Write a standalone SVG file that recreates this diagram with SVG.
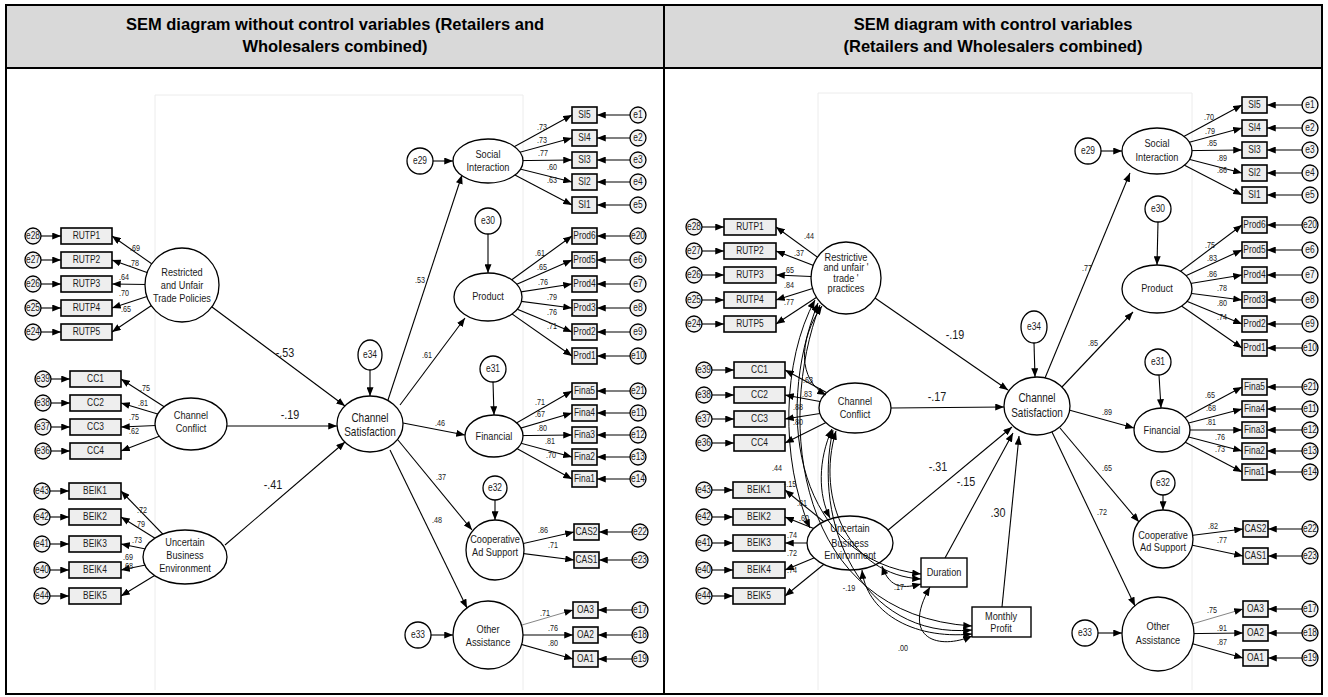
<svg xmlns="http://www.w3.org/2000/svg" width="1328" height="697" viewBox="0 0 1328 697">
<style>
.tx{font-family:"Liberation Sans",Arial,sans-serif;text-anchor:middle;fill:#1a1a1a}
text.tx,g.tx text{transform-box:fill-box;transform-origin:center;transform:scaleX(0.8)}
.hd{font-family:"Liberation Sans",Arial,sans-serif;font-weight:bold;font-size:16.5px;text-anchor:middle;fill:#000}
.nm{font-size:11.5px}.cs{font-size:12.5px}.ix{font-size:10.5px}.ex{font-size:10.5px}.ld{font-size:9px}.cf{font-size:13.5px}
.cn path{stroke:#000;stroke-width:1.1;fill:none;marker-end:url(#ah)}
.cv path{stroke:#000;stroke-width:1;fill:none;marker-end:url(#ah);marker-start:url(#ah)}
.lat{fill:#fff;stroke:#000;stroke-width:1.3}
.err{fill:#f3f3f3;stroke:#000;stroke-width:1.3}
.ind{fill:#eeeeee;stroke:#000;stroke-width:1.6}
.cvs{stroke:#ececec;stroke-width:1;fill:none}
</style>
<defs>
<marker id="ah" viewBox="0 0 10 8" refX="10" refY="4" markerWidth="9" markerHeight="7" markerUnits="userSpaceOnUse" orient="auto-start-reverse"><path d="M0,0L10,4L0,8z" fill="#000"/></marker>
</defs>
<rect x="0" y="0" width="1328" height="697" fill="#fff"/>
<g id="table">
<rect x="6" y="5" width="1316" height="63" fill="#d9d9d9"/>
<rect x="6" y="5" width="1316" height="689" fill="none" stroke="#000" stroke-width="2"/>
<line x1="6" y1="68" x2="1322" y2="68" stroke="#000" stroke-width="2"/>
<line x1="664" y1="5" x2="664" y2="694" stroke="#000" stroke-width="2"/>
<text class="hd" x="335" y="30">SEM diagram without control variables (Retailers and</text>
<text class="hd" x="335" y="52">Wholesalers combined)</text>
<text class="hd" x="993" y="30">SEM diagram with control variables</text>
<text class="hd" x="993" y="52">(Retailers and Wholesalers combined)</text>
</g>
<g id="canvas">
<path class="cvs" d="M155 690V95H523V690"/>
<path class="cvs" d="M818 690V93H1192V690"/>
</g>
<g id="connectors" class="cn">
<path d="M41 236H61"/><path d="M41 260H61"/><path d="M41 284H61"/><path d="M41 308H61"/><path d="M41 332H61"/>
<path d="M182 285L112 236"/><path d="M182 285L112 260"/><path d="M182 285L112 284"/><path d="M182 285L112 308"/><path d="M182 285L112 332"/>
<path d="M51 379H70"/><path d="M51 403H70"/><path d="M51 427H70"/><path d="M51 451H70"/>
<path d="M191 424L121 379"/><path d="M191 424L121 403"/><path d="M191 424L121 427"/><path d="M191 424L121 451"/>
<path d="M50 491H69"/><path d="M50 517H69"/><path d="M50 544H69"/><path d="M50 570H69"/><path d="M50 596H69"/>
<path d="M185 557L121 491"/><path d="M185 557L121 517"/><path d="M185 557L121 544"/><path d="M185 557L121 570"/><path d="M185 557L121 596"/>
<path d="M488 161L572 115"/><path d="M488 161L572 138"/><path d="M488 161L572 160"/><path d="M488 161L572 182"/><path d="M488 161L572 205"/>
<path d="M630 115H597"/><path d="M630 138H597"/><path d="M630 160H597"/><path d="M630 182H597"/><path d="M630 205H597"/>
<path d="M488 297L572 236"/><path d="M488 297L572 260"/><path d="M488 297L572 284"/><path d="M488 297L572 308"/><path d="M488 297L572 332"/><path d="M488 297L572 356"/>
<path d="M630 236H597"/><path d="M630 260H597"/><path d="M630 284H597"/><path d="M630 308H597"/><path d="M630 332H597"/><path d="M630 356H597"/>
<path d="M494 436L572 391"/><path d="M494 436L572 413"/><path d="M494 436L572 435"/><path d="M494 436L572 457"/><path d="M494 436L572 479"/>
<path d="M630 391H597"/><path d="M630 413H597"/><path d="M630 435H597"/><path d="M630 457H597"/><path d="M630 479H597"/>
<path d="M495 550L574 532"/><path d="M495 550L574 560"/><path d="M632 532H599"/><path d="M632 560H599"/>
<path d="M488 635L573 610" style="stroke:#666;stroke-width:0.8"/><path d="M488 635L573 635"/><path d="M488 635L573 659"/>
<path d="M632 610H598"/><path d="M632 635H598"/><path d="M632 659H598"/>
<path d="M370 370V396"/>
<path d="M212 307L345 406"/><path d="M227 426H337"/><path d="M225 545L345 442"/>
<path d="M388 400L462 175"/><path d="M400 405L465 318"/><path d="M403 423L465 435"/><path d="M398 440L472 530"/><path d="M390 450L467 608"/>
<path d="M433 161H453"/><path d="M488 234V273"/><path d="M493 382L494 415"/><path d="M495 500V520"/><path d="M431 635H453"/>
<path d="M702 227H724"/><path d="M702 251H724"/><path d="M702 275H724"/><path d="M702 300H724"/><path d="M702 324H724"/>
<path d="M846 278L776 227"/><path d="M846 278L776 251"/><path d="M846 278L776 275"/><path d="M846 278L776 300"/><path d="M846 278L776 324"/>
<path d="M712 370H734"/><path d="M712 395H734"/><path d="M712 419H734"/><path d="M712 443H734"/>
<path d="M855 408L785 370"/><path d="M855 408L785 395"/><path d="M855 408L785 419"/><path d="M855 408L785 443"/>
<path d="M712 490H733"/><path d="M712 517H733"/><path d="M712 543H733"/><path d="M712 570H733"/><path d="M712 596H733"/>
<path d="M850 543L785 490"/><path d="M850 543L785 517"/><path d="M850 543L785 543"/><path d="M850 543L785 570"/><path d="M850 543L785 596"/>
<path d="M1157 151L1242 105"/><path d="M1157 151L1242 128"/><path d="M1157 151L1242 150"/><path d="M1157 151L1242 173"/><path d="M1157 151L1242 195"/>
<path d="M1302 105H1267"/><path d="M1302 128H1267"/><path d="M1302 150H1267"/><path d="M1302 173H1267"/><path d="M1302 195H1267"/>
<path d="M1157 289L1242 225"/><path d="M1157 289L1242 250"/><path d="M1157 289L1242 275"/><path d="M1157 289L1242 300"/><path d="M1157 289L1242 324"/><path d="M1157 289L1242 348"/>
<path d="M1302 225H1267"/><path d="M1302 250H1267"/><path d="M1302 275H1267"/><path d="M1302 300H1267"/><path d="M1302 324H1267"/><path d="M1302 348H1267"/>
<path d="M1162 430L1242 387"/><path d="M1162 430L1242 409"/><path d="M1162 430L1242 430"/><path d="M1162 430L1242 451"/><path d="M1162 430L1242 472"/>
<path d="M1302 387H1267"/><path d="M1302 409H1267"/><path d="M1302 430H1267"/><path d="M1302 451H1267"/><path d="M1302 472H1267"/>
<path d="M1163 539L1243 529"/><path d="M1163 539L1243 556"/><path d="M1302 529H1268"/><path d="M1302 556H1268"/>
<path d="M1158 634L1243 609" style="stroke:#666;stroke-width:0.8"/><path d="M1158 634L1243 633"/><path d="M1158 634L1243 658"/>
<path d="M1302 609H1268"/><path d="M1302 633H1268"/><path d="M1302 658H1268"/>
<path d="M1034 343L1035 377"/>
<path d="M875 298L1008 390"/><path d="M891 408L1004 407"/><path d="M887 531L1012 427"/><path d="M945 558L1013 433"/><path d="M1002 607L1019 436"/>
<path d="M1045 378L1130 173"/><path d="M1061 388L1133 312"/><path d="M1069 410L1134 428"/><path d="M1060 428L1139 522"/><path d="M1052 432L1135 606"/>
<path d="M1101 151H1122"/><path d="M1158 222L1157 265"/><path d="M1159 375L1161 408"/><path d="M1163 495V510"/><path d="M1098 633H1122"/>
</g>
<g id="L-RUTP">
<rect class="ind" x="61" y="228" width="51" height="16"/><rect class="ind" x="61" y="252" width="51" height="16"/><rect class="ind" x="61" y="276" width="51" height="16"/><rect class="ind" x="61" y="300" width="51" height="16"/><rect class="ind" x="61" y="324" width="51" height="16"/>
<text class="tx ix" x="86.5" y="239.5">RUTP1</text><text class="tx ix" x="86.5" y="263.5">RUTP2</text><text class="tx ix" x="86.5" y="287.5">RUTP3</text><text class="tx ix" x="86.5" y="311.5">RUTP4</text><text class="tx ix" x="86.5" y="335.5">RUTP5</text>
<circle class="err" cx="33" cy="236" r="8"/><circle class="err" cx="33" cy="260" r="8"/><circle class="err" cx="33" cy="284" r="8"/><circle class="err" cx="33" cy="308" r="8"/><circle class="err" cx="33" cy="332" r="8"/>
<text class="tx ex" x="33" y="239.5">e28</text><text class="tx ex" x="33" y="263.5">e27</text><text class="tx ex" x="33" y="287.5">e26</text><text class="tx ex" x="33" y="311.5">e25</text><text class="tx ex" x="33" y="335.5">e24</text>
</g>
<g id="L-Restricted">
<circle class="lat" cx="182" cy="285" r="37"/>
<text class="tx nm" x="182" y="276">Restricted</text><text class="tx nm" x="182" y="289">and Unfair</text><text class="tx nm" x="182" y="302">Trade Policies</text>
</g>
<g id="L-CC">
<rect class="ind" x="70" y="371" width="51" height="16"/><rect class="ind" x="70" y="395" width="51" height="16"/><rect class="ind" x="70" y="419" width="51" height="16"/><rect class="ind" x="70" y="443" width="51" height="16"/>
<text class="tx ix" x="95.5" y="382.5">CC1</text><text class="tx ix" x="95.5" y="406.5">CC2</text><text class="tx ix" x="95.5" y="430.5">CC3</text><text class="tx ix" x="95.5" y="454.5">CC4</text>
<circle class="err" cx="43" cy="379" r="8"/><circle class="err" cx="43" cy="403" r="8"/><circle class="err" cx="43" cy="427" r="8"/><circle class="err" cx="43" cy="451" r="8"/>
<text class="tx ex" x="43" y="382.5">e39</text><text class="tx ex" x="43" y="406.5">e38</text><text class="tx ex" x="43" y="430.5">e37</text><text class="tx ex" x="43" y="454.5">e36</text>
</g>
<g id="L-ChannelConflict">
<ellipse class="lat" cx="191" cy="424" rx="36" ry="26"/>
<text class="tx nm" x="191" y="419">Channel</text><text class="tx nm" x="191" y="432">Conflict</text>
</g>
<g id="L-BEIK">
<rect class="ind" x="69" y="483" width="52" height="16"/><rect class="ind" x="69" y="509" width="52" height="16"/><rect class="ind" x="69" y="536" width="52" height="16"/><rect class="ind" x="69" y="562" width="52" height="16"/><rect class="ind" x="69" y="588" width="52" height="16"/>
<text class="tx ix" x="95" y="494.5">BEIK1</text><text class="tx ix" x="95" y="520.5">BEIK2</text><text class="tx ix" x="95" y="547.5">BEIK3</text><text class="tx ix" x="95" y="573.5">BEIK4</text><text class="tx ix" x="95" y="599.5">BEIK5</text>
<circle class="err" cx="42" cy="491" r="8"/><circle class="err" cx="42" cy="517" r="8"/><circle class="err" cx="42" cy="544" r="8"/><circle class="err" cx="42" cy="570" r="8"/><circle class="err" cx="42" cy="596" r="8"/>
<text class="tx ex" x="42" y="494.5">e43</text><text class="tx ex" x="42" y="520.5">e42</text><text class="tx ex" x="42" y="547.5">e41</text><text class="tx ex" x="42" y="573.5">e40</text><text class="tx ex" x="42" y="599.5">e44</text>
</g>
<g id="L-UBE">
<ellipse class="lat" cx="185" cy="557" rx="42" ry="27"/>
<text class="tx nm" x="185" y="546">Uncertain</text><text class="tx nm" x="185" y="559">Business</text><text class="tx nm" x="185" y="572">Environment</text>
</g>
<g id="L-ChannelSat">
<ellipse class="lat" cx="370" cy="424" rx="33" ry="28"/>
<text class="tx cs" x="370" y="422">Channel</text><text class="tx cs" x="370" y="436">Satisfaction</text>
<ellipse class="lat" cx="370" cy="355" rx="12" ry="15"/>
<text class="tx ex" x="370" y="358.5">e34</text>
</g>
<g id="L-Social">
<ellipse class="lat" cx="488" cy="161" rx="35" ry="22"/>
<text class="tx nm" x="488" y="158">Social</text><text class="tx nm" x="488" y="171">Interaction</text>
<circle class="lat" cx="420" cy="161" r="13"/><text class="tx ex" x="420" y="164.5">e29</text>
<rect class="ind" x="572" y="107" width="25" height="16"/><rect class="ind" x="572" y="130" width="25" height="16"/><rect class="ind" x="572" y="152" width="25" height="16"/><rect class="ind" x="572" y="174" width="25" height="16"/><rect class="ind" x="572" y="197" width="25" height="16"/>
<text class="tx ix" x="584.5" y="118.5">SI5</text><text class="tx ix" x="584.5" y="141.5">SI4</text><text class="tx ix" x="584.5" y="163.5">SI3</text><text class="tx ix" x="584.5" y="185.5">SI2</text><text class="tx ix" x="584.5" y="208.5">SI1</text>
<circle class="err" cx="638" cy="115" r="8"/><circle class="err" cx="638" cy="138" r="8"/><circle class="err" cx="638" cy="160" r="8"/><circle class="err" cx="638" cy="182" r="8"/><circle class="err" cx="638" cy="205" r="8"/>
<text class="tx ex" x="638" y="118.5">e1</text><text class="tx ex" x="638" y="141.5">e2</text><text class="tx ex" x="638" y="163.5">e3</text><text class="tx ex" x="638" y="185.5">e4</text><text class="tx ex" x="638" y="208.5">e5</text>
</g>
<g id="L-Product">
<ellipse class="lat" cx="488" cy="297" rx="34" ry="24"/>
<text class="tx nm" x="488" y="300">Product</text>
<circle class="lat" cx="488" cy="221" r="13"/><text class="tx ex" x="488" y="224.5">e30</text>
<rect class="ind" x="572" y="228" width="25" height="16"/><rect class="ind" x="572" y="252" width="25" height="16"/><rect class="ind" x="572" y="276" width="25" height="16"/><rect class="ind" x="572" y="300" width="25" height="16"/><rect class="ind" x="572" y="324" width="25" height="16"/><rect class="ind" x="572" y="348" width="25" height="16"/>
<text class="tx ix" x="584.5" y="239.5">Prod6</text><text class="tx ix" x="584.5" y="263.5">Prod5</text><text class="tx ix" x="584.5" y="287.5">Prod4</text><text class="tx ix" x="584.5" y="311.5">Prod3</text><text class="tx ix" x="584.5" y="335.5">Prod2</text><text class="tx ix" x="584.5" y="359.5">Prod1</text>
<circle class="err" cx="638" cy="236" r="8"/><circle class="err" cx="638" cy="260" r="8"/><circle class="err" cx="638" cy="284" r="8"/><circle class="err" cx="638" cy="308" r="8"/><circle class="err" cx="638" cy="332" r="8"/><circle class="err" cx="638" cy="356" r="8"/>
<text class="tx ex" x="638" y="239.5">e20</text><text class="tx ex" x="638" y="263.5">e6</text><text class="tx ex" x="638" y="287.5">e7</text><text class="tx ex" x="638" y="311.5">e8</text><text class="tx ex" x="638" y="335.5">e9</text><text class="tx ex" x="638" y="359.5">e10</text>
</g>
<g id="L-Financial">
<ellipse class="lat" cx="494" cy="436" rx="29" ry="21"/>
<text class="tx nm" x="494" y="440">Financial</text>
<circle class="lat" cx="493" cy="369" r="13"/><text class="tx ex" x="493" y="372.5">e31</text>
<rect class="ind" x="572" y="383" width="25" height="16"/><rect class="ind" x="572" y="405" width="25" height="16"/><rect class="ind" x="572" y="427" width="25" height="16"/><rect class="ind" x="572" y="449" width="25" height="16"/><rect class="ind" x="572" y="471" width="25" height="16"/>
<text class="tx ix" x="584.5" y="394.5">Fina5</text><text class="tx ix" x="584.5" y="416.5">Fina4</text><text class="tx ix" x="584.5" y="438.5">Fina3</text><text class="tx ix" x="584.5" y="460.5">Fina2</text><text class="tx ix" x="584.5" y="482.5">Fina1</text>
<circle class="err" cx="638" cy="391" r="8"/><circle class="err" cx="638" cy="413" r="8"/><circle class="err" cx="638" cy="435" r="8"/><circle class="err" cx="638" cy="457" r="8"/><circle class="err" cx="638" cy="479" r="8"/>
<text class="tx ex" x="638" y="394.5">e21</text><text class="tx ex" x="638" y="416.5">e11</text><text class="tx ex" x="638" y="438.5">e12</text><text class="tx ex" x="638" y="460.5">e13</text><text class="tx ex" x="638" y="482.5">e14</text>
</g>
<g id="L-Coop">
<ellipse class="lat" cx="495" cy="550" rx="29" ry="30"/>
<text class="tx nm" x="495" y="543">Cooperative</text><text class="tx nm" x="495" y="556">Ad Support</text>
<circle class="lat" cx="495" cy="488" r="12"/><text class="tx ex" x="495" y="491.5">e32</text>
<rect class="ind" x="574" y="524" width="25" height="16"/><rect class="ind" x="574" y="552" width="25" height="16"/>
<text class="tx ix" x="586.5" y="535.5">CAS2</text><text class="tx ix" x="586.5" y="563.5">CAS1</text>
<circle class="err" cx="640" cy="532" r="8"/><circle class="err" cx="640" cy="560" r="8"/>
<text class="tx ex" x="640" y="535.5">e22</text><text class="tx ex" x="640" y="563.5">e23</text>
</g>
<g id="L-Other">
<ellipse class="lat" cx="488" cy="635" rx="35" ry="34"/>
<text class="tx nm" x="488" y="633">Other</text><text class="tx nm" x="488" y="646">Assistance</text>
<circle class="lat" cx="418" cy="635" r="13"/><text class="tx ex" x="418" y="638.5">e33</text>
<rect class="ind" x="573" y="602" width="25" height="16"/><rect class="ind" x="573" y="627" width="25" height="16"/><rect class="ind" x="573" y="651" width="25" height="16"/>
<text class="tx ix" x="585.5" y="613.5">OA3</text><text class="tx ix" x="585.5" y="638.5">OA2</text><text class="tx ix" x="585.5" y="662.5">OA1</text>
<circle class="err" cx="640" cy="610" r="8"/><circle class="err" cx="640" cy="635" r="8"/><circle class="err" cx="640" cy="659" r="8"/>
<text class="tx ex" x="640" y="613.5">e17</text><text class="tx ex" x="640" y="638.5">e18</text><text class="tx ex" x="640" y="662.5">e19</text>
</g>
<g id="R-RUTP">
<rect class="ind" x="724" y="219" width="52" height="16"/><rect class="ind" x="724" y="243" width="52" height="16"/><rect class="ind" x="724" y="267" width="52" height="16"/><rect class="ind" x="724" y="292" width="52" height="16"/><rect class="ind" x="724" y="316" width="52" height="16"/>
<text class="tx ix" x="750" y="230.5">RUTP1</text><text class="tx ix" x="750" y="254.5">RUTP2</text><text class="tx ix" x="750" y="278.5">RUTP3</text><text class="tx ix" x="750" y="303.5">RUTP4</text><text class="tx ix" x="750" y="327.5">RUTP5</text>
<circle class="err" cx="694" cy="227" r="8"/><circle class="err" cx="694" cy="251" r="8"/><circle class="err" cx="694" cy="275" r="8"/><circle class="err" cx="694" cy="300" r="8"/><circle class="err" cx="694" cy="324" r="8"/>
<text class="tx ex" x="694" y="230.5">e28</text><text class="tx ex" x="694" y="254.5">e27</text><text class="tx ex" x="694" y="278.5">e26</text><text class="tx ex" x="694" y="303.5">e25</text><text class="tx ex" x="694" y="327.5">e24</text>
</g>
<g id="R-Restrictive">
<ellipse class="lat" cx="846" cy="278" rx="35" ry="36"/>
<text class="tx nm" x="846" y="261">Restrictive</text><text class="tx nm" x="846" y="271">and unfair '</text><text class="tx nm" x="846" y="282">trade '</text><text class="tx nm" x="846" y="292">practices</text>
</g>
<g id="R-CC">
<rect class="ind" x="734" y="362" width="51" height="16"/><rect class="ind" x="734" y="387" width="51" height="16"/><rect class="ind" x="734" y="411" width="51" height="16"/><rect class="ind" x="734" y="435" width="51" height="16"/>
<text class="tx ix" x="759.5" y="373.5">CC1</text><text class="tx ix" x="759.5" y="398.5">CC2</text><text class="tx ix" x="759.5" y="422.5">CC3</text><text class="tx ix" x="759.5" y="446.5">CC4</text>
<circle class="err" cx="704" cy="370" r="8"/><circle class="err" cx="704" cy="395" r="8"/><circle class="err" cx="704" cy="419" r="8"/><circle class="err" cx="704" cy="443" r="8"/>
<text class="tx ex" x="704" y="373.5">e39</text><text class="tx ex" x="704" y="398.5">e38</text><text class="tx ex" x="704" y="422.5">e37</text><text class="tx ex" x="704" y="446.5">e36</text>
</g>
<g id="R-ChannelConflict">
<ellipse class="lat" cx="855" cy="408" rx="36" ry="25"/>
<text class="tx nm" x="855" y="405">Channel</text><text class="tx nm" x="855" y="418">Conflict</text>
</g>
<g id="R-BEIK">
<rect class="ind" x="733" y="482" width="52" height="16"/><rect class="ind" x="733" y="509" width="52" height="16"/><rect class="ind" x="733" y="535" width="52" height="16"/><rect class="ind" x="733" y="562" width="52" height="16"/><rect class="ind" x="733" y="588" width="52" height="16"/>
<text class="tx ix" x="759" y="493.5">BEIK1</text><text class="tx ix" x="759" y="520.5">BEIK2</text><text class="tx ix" x="759" y="546.5">BEIK3</text><text class="tx ix" x="759" y="573.5">BEIK4</text><text class="tx ix" x="759" y="599.5">BEIK5</text>
<circle class="err" cx="704" cy="490" r="8"/><circle class="err" cx="704" cy="517" r="8"/><circle class="err" cx="704" cy="543" r="8"/><circle class="err" cx="704" cy="570" r="8"/><circle class="err" cx="704" cy="596" r="8"/>
<text class="tx ex" x="704" y="493.5">e43</text><text class="tx ex" x="704" y="520.5">e42</text><text class="tx ex" x="704" y="546.5">e41</text><text class="tx ex" x="704" y="573.5">e40</text><text class="tx ex" x="704" y="599.5">e44</text>
</g>
<g id="R-UBE">
<ellipse class="lat" cx="850" cy="543" rx="43" ry="27"/>
<text class="tx nm" x="850" y="532">Uncertain</text><text class="tx nm" x="850" y="547">Business</text><text class="tx nm" x="850" y="559">Environment</text>
</g>
<g id="R-Duration">
<rect x="921" y="558" width="46" height="29" fill="#fff" stroke="#000" stroke-width="1.4"/>
<text class="tx nm" x="944" y="576">Duration</text>
</g>
<g id="R-MonthlyProfit">
<rect x="972" y="607" width="59" height="30" fill="#fff" stroke="#000" stroke-width="1.4"/>
<text class="tx nm" x="1001" y="620">Monthly</text><text class="tx nm" x="1001" y="632">Profit</text>
</g>
<g id="R-ChannelSat">
<ellipse class="lat" cx="1037" cy="406" rx="33" ry="29"/>
<text class="tx cs" x="1037" y="402">Channel</text><text class="tx cs" x="1037" y="417">Satisfaction</text>
<ellipse class="lat" cx="1034" cy="327" rx="13" ry="16"/>
<text class="tx ex" x="1034" y="330.5">e34</text>
</g>
<g id="R-Social">
<ellipse class="lat" cx="1157" cy="151" rx="35" ry="23"/>
<text class="tx nm" x="1157" y="147">Social</text><text class="tx nm" x="1157" y="161">Interaction</text>
<circle class="lat" cx="1088" cy="151" r="13"/><text class="tx ex" x="1088" y="154.5">e29</text>
<rect class="ind" x="1242" y="97" width="25" height="16"/><rect class="ind" x="1242" y="120" width="25" height="16"/><rect class="ind" x="1242" y="142" width="25" height="16"/><rect class="ind" x="1242" y="165" width="25" height="16"/><rect class="ind" x="1242" y="187" width="25" height="16"/>
<text class="tx ix" x="1254.5" y="108.5">SI5</text><text class="tx ix" x="1254.5" y="131.5">SI4</text><text class="tx ix" x="1254.5" y="153.5">SI3</text><text class="tx ix" x="1254.5" y="176.5">SI2</text><text class="tx ix" x="1254.5" y="198.5">SI1</text>
<circle class="err" cx="1310" cy="105" r="8"/><circle class="err" cx="1310" cy="128" r="8"/><circle class="err" cx="1310" cy="150" r="8"/><circle class="err" cx="1310" cy="173" r="8"/><circle class="err" cx="1310" cy="195" r="8"/>
<text class="tx ex" x="1310" y="108.5">e1</text><text class="tx ex" x="1310" y="131.5">e2</text><text class="tx ex" x="1310" y="153.5">e3</text><text class="tx ex" x="1310" y="176.5">e4</text><text class="tx ex" x="1310" y="198.5">e5</text>
</g>
<g id="R-Product">
<ellipse class="lat" cx="1157" cy="289" rx="35" ry="24"/>
<text class="tx nm" x="1157" y="292">Product</text>
<circle class="lat" cx="1158" cy="209" r="13"/><text class="tx ex" x="1158" y="212.5">e30</text>
<rect class="ind" x="1242" y="217" width="25" height="16"/><rect class="ind" x="1242" y="242" width="25" height="16"/><rect class="ind" x="1242" y="267" width="25" height="16"/><rect class="ind" x="1242" y="292" width="25" height="16"/><rect class="ind" x="1242" y="316" width="25" height="16"/><rect class="ind" x="1242" y="340" width="25" height="16"/>
<text class="tx ix" x="1254.5" y="228.5">Prod6</text><text class="tx ix" x="1254.5" y="253.5">Prod5</text><text class="tx ix" x="1254.5" y="278.5">Prod4</text><text class="tx ix" x="1254.5" y="303.5">Prod3</text><text class="tx ix" x="1254.5" y="327.5">Prod2</text><text class="tx ix" x="1254.5" y="351.5">Prod1</text>
<circle class="err" cx="1310" cy="225" r="8"/><circle class="err" cx="1310" cy="250" r="8"/><circle class="err" cx="1310" cy="275" r="8"/><circle class="err" cx="1310" cy="300" r="8"/><circle class="err" cx="1310" cy="324" r="8"/><circle class="err" cx="1310" cy="348" r="8"/>
<text class="tx ex" x="1310" y="228.5">e20</text><text class="tx ex" x="1310" y="253.5">e6</text><text class="tx ex" x="1310" y="278.5">e7</text><text class="tx ex" x="1310" y="303.5">e8</text><text class="tx ex" x="1310" y="327.5">e9</text><text class="tx ex" x="1310" y="351.5">e10</text>
</g>
<g id="R-Financial">
<ellipse class="lat" cx="1162" cy="430" rx="28" ry="22"/>
<text class="tx nm" x="1162" y="434">Financial</text>
<circle class="lat" cx="1158" cy="362" r="13"/><text class="tx ex" x="1158" y="365.5">e31</text>
<rect class="ind" x="1242" y="379" width="25" height="16"/><rect class="ind" x="1242" y="401" width="25" height="16"/><rect class="ind" x="1242" y="422" width="25" height="16"/><rect class="ind" x="1242" y="443" width="25" height="16"/><rect class="ind" x="1242" y="464" width="25" height="16"/>
<text class="tx ix" x="1254.5" y="390.5">Fina5</text><text class="tx ix" x="1254.5" y="412.5">Fina4</text><text class="tx ix" x="1254.5" y="433.5">Fina3</text><text class="tx ix" x="1254.5" y="454.5">Fina2</text><text class="tx ix" x="1254.5" y="475.5">Fina1</text>
<circle class="err" cx="1310" cy="387" r="8"/><circle class="err" cx="1310" cy="409" r="8"/><circle class="err" cx="1310" cy="430" r="8"/><circle class="err" cx="1310" cy="451" r="8"/><circle class="err" cx="1310" cy="472" r="8"/>
<text class="tx ex" x="1310" y="390.5">e21</text><text class="tx ex" x="1310" y="412.5">e11</text><text class="tx ex" x="1310" y="433.5">e12</text><text class="tx ex" x="1310" y="454.5">e13</text><text class="tx ex" x="1310" y="475.5">e14</text>
</g>
<g id="R-Coop">
<ellipse class="lat" cx="1163" cy="539" rx="30" ry="29"/>
<text class="tx nm" x="1163" y="539">Cooperative</text><text class="tx nm" x="1163" y="551">Ad Support</text>
<circle class="lat" cx="1163" cy="483" r="12"/><text class="tx ex" x="1163" y="486.5">e32</text>
<rect class="ind" x="1243" y="521" width="25" height="16"/><rect class="ind" x="1243" y="548" width="25" height="16"/>
<text class="tx ix" x="1255.5" y="532.5">CAS2</text><text class="tx ix" x="1255.5" y="559.5">CAS1</text>
<circle class="err" cx="1310" cy="529" r="8"/><circle class="err" cx="1310" cy="556" r="8"/>
<text class="tx ex" x="1310" y="532.5">e22</text><text class="tx ex" x="1310" y="559.5">e23</text>
</g>
<g id="R-Other">
<ellipse class="lat" cx="1158" cy="634" rx="36" ry="37"/>
<text class="tx nm" x="1158" y="630">Other</text><text class="tx nm" x="1158" y="644">Assistance</text>
<circle class="lat" cx="1085" cy="633" r="13"/><text class="tx ex" x="1085" y="636.5">e33</text>
<rect class="ind" x="1243" y="601" width="25" height="16"/><rect class="ind" x="1243" y="625" width="25" height="16"/><rect class="ind" x="1243" y="650" width="25" height="16"/>
<text class="tx ix" x="1255.5" y="612.5">OA3</text><text class="tx ix" x="1255.5" y="636.5">OA2</text><text class="tx ix" x="1255.5" y="661.5">OA1</text>
<circle class="err" cx="1310" cy="609" r="8"/><circle class="err" cx="1310" cy="633" r="8"/><circle class="err" cx="1310" cy="658" r="8"/>
<text class="tx ex" x="1310" y="612.5">e17</text><text class="tx ex" x="1310" y="636.5">e18</text><text class="tx ex" x="1310" y="661.5">e19</text>
</g>
<g id="covariances" class="cv">
<path d="M822 306C798 340 798 380 826 395"/>
<path d="M815 300C782 360 780 460 810 528"/>
<path d="M818 303C772 420 800 560 921 574"/>
<path d="M820 305C776 420 795 615 972 626"/>
<path d="M832 429C818 460 818 495 830 518"/>
<path d="M836 431C815 500 850 575 921 579"/>
<path d="M833 430C812 520 860 640 972 630"/>
<path d="M882 566C890 590 905 588 921 584"/>
<path d="M862 570C866 610 910 640 972 634"/>
<path d="M930 587C900 640 940 650 972 636"/>
</g>
<g id="labels" class="tx">
<text class="ld" x="135" y="251">.69</text><text class="ld" x="134" y="266">.78</text><text class="ld" x="124" y="280">.64</text><text class="ld" x="124" y="296">.70</text><text class="ld" x="126" y="312">.65</text>
<text class="ld" x="145" y="391">.75</text><text class="ld" x="143" y="406">.81</text><text class="ld" x="134" y="420">.75</text><text class="ld" x="134" y="434">.62</text>
<text class="ld" x="142" y="513">.72</text><text class="ld" x="140" y="527">.79</text><text class="ld" x="137" y="543">.73</text><text class="ld" x="128" y="560">.69</text><text class="ld" x="128" y="569">.68</text>
<text class="ld" x="542" y="130">.73</text><text class="ld" x="542" y="143">.73</text><text class="ld" x="543" y="156">.77</text><text class="ld" x="552" y="170">.60</text><text class="ld" x="552" y="183">.63</text>
<text class="ld" x="540" y="256">.61</text><text class="ld" x="542" y="270">.65</text><text class="ld" x="543" y="285">.76</text><text class="ld" x="552" y="300">.79</text><text class="ld" x="552" y="315">.76</text><text class="ld" x="552" y="329">.71</text>
<text class="ld" x="540" y="405">.71</text><text class="ld" x="540" y="417">.67</text><text class="ld" x="542" y="431">.80</text><text class="ld" x="550" y="444">.81</text><text class="ld" x="551" y="458">.70</text>
<text class="ld" x="543" y="533">.86</text><text class="ld" x="553" y="548">.71</text>
<text class="ld" x="545" y="616">.71</text><text class="ld" x="553" y="631">.76</text><text class="ld" x="553" y="646">.80</text>
<text class="ld" x="420" y="283">.53</text><text class="ld" x="427" y="358">.61</text><text class="ld" x="440" y="426">.46</text><text class="ld" x="441" y="480">.37</text><text class="ld" x="437" y="523">.48</text>
<text class="cf" x="285" y="357">-.53</text><text class="cf" x="290" y="419">-.19</text><text class="cf" x="273" y="489">-.41</text>
<text class="ld" x="809" y="239">.44</text><text class="ld" x="799" y="256">.37</text><text class="ld" x="789" y="273">.65</text><text class="ld" x="789" y="288">.84</text><text class="ld" x="789" y="305">.77</text>
<text class="ld" x="808" y="383">.63</text><text class="ld" x="807" y="397">.83</text><text class="ld" x="798" y="410">.88</text><text class="ld" x="798" y="425">.80</text>
<text class="ld" x="802" y="506">.81</text><text class="ld" x="804" y="521">.60</text><text class="ld" x="792" y="538">.74</text><text class="ld" x="792" y="556">.72</text><text class="ld" x="792" y="573">.74</text>
<text class="ld" x="777" y="471">.44</text><text class="ld" x="790" y="487">-.15</text><text class="ld" x="849" y="591">-.19</text><text class="ld" x="899" y="590">.17</text><text class="ld" x="903" y="651">.00</text>
<text class="ld" x="1209" y="120">.70</text><text class="ld" x="1210" y="134">.79</text><text class="ld" x="1212" y="146">.85</text><text class="ld" x="1222" y="161">.89</text><text class="ld" x="1222" y="173">.86</text>
<text class="ld" x="1210" y="248">.75</text><text class="ld" x="1212" y="261">.83</text><text class="ld" x="1212" y="277">.86</text><text class="ld" x="1222" y="291">.78</text><text class="ld" x="1222" y="306">.80</text><text class="ld" x="1222" y="320">.74</text>
<text class="ld" x="1210" y="398">.65</text><text class="ld" x="1211" y="411">.68</text><text class="ld" x="1211" y="425">.81</text><text class="ld" x="1220" y="440">.76</text><text class="ld" x="1220" y="452">.73</text>
<text class="ld" x="1213" y="529">.82</text><text class="ld" x="1222" y="543">.77</text>
<text class="ld" x="1212" y="613">.75</text><text class="ld" x="1222" y="631">.91</text><text class="ld" x="1222" y="645">.87</text>
<text class="ld" x="1087" y="271">.77</text><text class="ld" x="1093" y="346">.85</text><text class="ld" x="1107" y="415">.89</text><text class="ld" x="1107" y="471">.65</text><text class="ld" x="1102" y="515">.72</text>
<text class="cf" x="955" y="339">-.19</text><text class="cf" x="937" y="401">-.17</text><text class="cf" x="938" y="471">-.31</text><text class="cf" x="966" y="486">-.15</text><text class="cf" x="998" y="517">.30</text>
</g>
</svg>
